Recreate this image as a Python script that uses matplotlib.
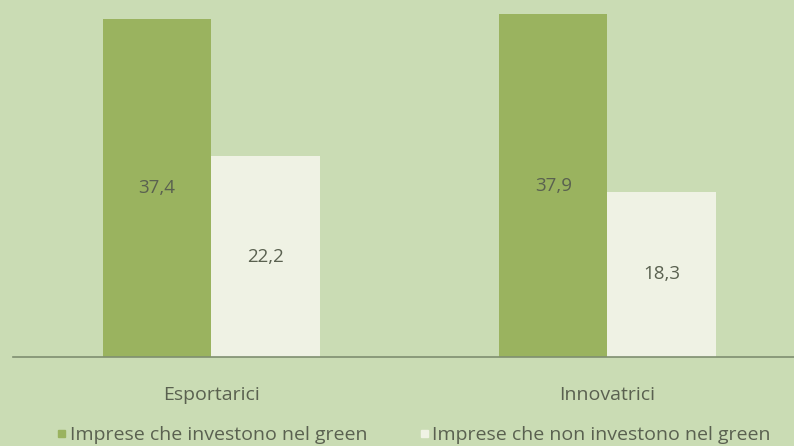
import matplotlib
matplotlib.use('Agg')
import matplotlib.pyplot as plt
import numpy as np

plt.rcParams['font.family'] = ['Open Sans', 'DejaVu Sans']

categories = ['Esportarici', 'Innovatrici']
green = [37.4, 37.9]        # Imprese che investono nel green
non_green = [22.2, 18.3]    # Imprese che non investono nel green
labels = ['Imprese che investono nel green', 'Imprese che non investono nel green']

bg = '#cadcb4'
dark = '#9ab35f'
light = '#eff2e4'
txt = '#5a6150'

fig = plt.figure(figsize=(7.94, 4.46), dpi=100, facecolor=bg)
ax = fig.add_axes([13/794, 89/446, 781/794, 357/446])
ax.set_facecolor(bg)

x = np.arange(len(categories))
w = 0.274
b1 = ax.bar(x - w/2, green, w, color=dark)
b2 = ax.bar(x + w/2, non_green, w, color=light)

for bars, vals in [(b1, green), (b2, non_green)]:
    for r, v in zip(bars, vals):
        ax.text(r.get_x() + r.get_width()/2, v/2, f'{v:.1f}'.replace('.', ','),
                ha='center', va='center', fontsize=13.5, color=txt)

ax.set_xlim(-0.501, 1.471)
ax.set_ylim(0, 39.5)
for s in ['top', 'right', 'left']:
    ax.spines[s].set_visible(False)
ax.spines['bottom'].set_color('#7f8f70')
ax.spines['bottom'].set_linewidth(1.2)
ax.set_yticks([])
ax.set_xticks(x)
ax.set_xticklabels(categories, fontsize=14, color=txt)
ax.tick_params(axis='x', length=0, pad=21)

# legend
fig.patches.append(plt.Rectangle((58/794, 1-437/446), 7/794, 7/446, transform=fig.transFigure, color=dark))
fig.text(70/794, 1-435/446, labels[0], fontsize=14, color=txt, va='center')
fig.patches.append(plt.Rectangle((421/794, 1-437/446), 7/794, 7/446, transform=fig.transFigure, color=light))
fig.text(432/794, 1-435/446, labels[1], fontsize=14, color=txt, va='center')

fig.savefig('out.png', dpi=100, facecolor=bg)
